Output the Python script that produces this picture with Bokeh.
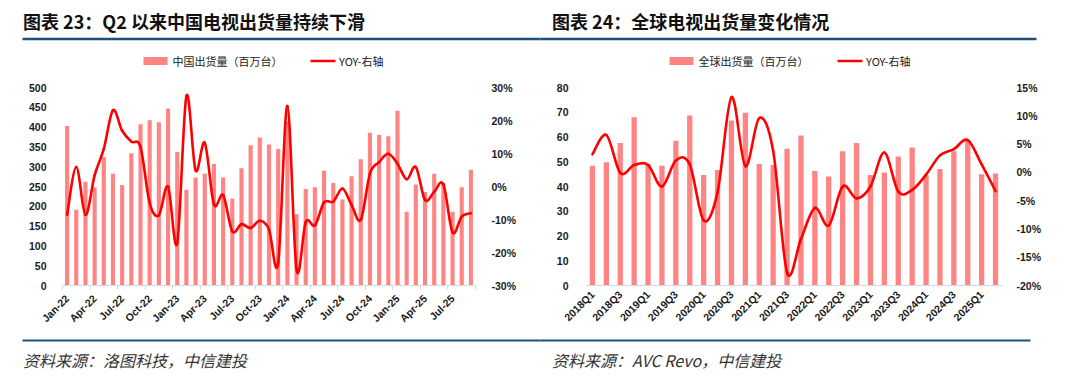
import math
from bokeh.plotting import figure
from bokeh.models import (Range1d, LinearAxis, FixedTicker, SingleIntervalTicker,
                          PrintfTickFormatter, ColumnDataSource)
from bokeh.layouts import row, column
from bokeh.embed import file_html
from bokeh.resources import INLINE
from bokeh.core.properties import value

# ---------------- data: left chart (China monthly) ----------------
months = ["Jan-22", "Feb-22", "Mar-22", "Apr-22", "May-22", "Jun-22", "Jul-22", "Aug-22", "Sep-22",
          "Oct-22", "Nov-22", "Dec-22", "Jan-23", "Feb-23", "Mar-23", "Apr-23", "May-23", "Jun-23",
          "Jul-23", "Aug-23", "Sep-23", "Oct-23", "Nov-23", "Dec-23", "Jan-24", "Feb-24", "Mar-24",
          "Apr-24", "May-24", "Jun-24", "Jul-24", "Aug-24", "Sep-24", "Oct-24", "Nov-24", "Dec-24",
          "Jan-25", "Feb-25", "Mar-25", "Apr-25", "May-25", "Jun-25", "Jul-25", "Aug-25", "Sep-25"]
cn_ship = [403, 191, 262, 248, 324, 282, 254, 334, 407, 417, 412, 447,
           337, 242, 273, 282, 307, 273, 219, 296, 354, 374, 356, 345,
           415, 180, 244, 248, 290, 259, 217, 276, 319, 386, 380, 377,
           441, 186, 255, 236, 282, 259, 186, 248, 292]
cn_yoy = [-8.6, 5.9, -8.6, 3.4, 11.4, 23.1, 16.9, 13.6, 11.9, -5.0, -8.7, 0.0,
          -17.1, 27.4, 4.9, 13.2, -5.4, -2.6, -13.6, -11.4, -12.6, -10.4, -13.0, -23.1,
          24.4, -25.1, -10.8, -11.8, -4.8, -4.6, -0.6, -5.6, -10.1, 3.9, 7.4, 9.9,
          6.9, 2.2, 5.9, -4.1, -1.6, 0.6, -13.9, -9.1, -8.1]

# ---------------- data: right chart (global quarterly) ----------------
quarters = ["2018Q1", "2018Q2", "2018Q3", "2018Q4", "2019Q1", "2019Q2", "2019Q3", "2019Q4",
            "2020Q1", "2020Q2", "2020Q3", "2020Q4", "2021Q1", "2021Q2", "2021Q3", "2021Q4",
            "2022Q1", "2022Q2", "2022Q3", "2022Q4", "2023Q1", "2023Q2", "2023Q3", "2023Q4",
            "2024Q1", "2024Q2", "2024Q3", "2024Q4", "2025Q1", "2025Q2"]
gl_ship = [48.4, 49.8, 57.6, 68.0, 49.0, 48.4, 58.5, 68.7, 44.6, 46.7, 66.7, 69.8,
           49.1, 48.7, 55.3, 60.6, 46.3, 44.0, 54.2, 57.6, 44.6, 45.7, 52.1, 55.8,
           44.4, 47.1, 54.2, 58.8, 44.9, 45.3]
gl_yoy = [3.2, 6.6, -0.1, 1.3, 1.3, -2.5, 2.1, 1.4, -8.5, -3.5, 13.3, 1.1,
          9.6, 3.8, -17.7, -11.8, -6.3, -9.4, -2.5, -4.6, -2.5, 3.5, -3.4, -3.1,
          -0.4, 3.0, 4.1, 5.7, 1.4, -3.3]

titles = ["图表 23：Q2 以来中国电视出货量持续下滑", "图表 24：全球电视出货量变化情况"]
sources = ["资料来源：洛图科技，中信建投", "资料来源：AVC Revo，中信建投"]
legend_bar = ["中国出货量（百万台）", "全球出货量（百万台）"]
legend_line = ["YOY-右轴", "YOY-右轴"]

BAR = "#FF8585"
RED = "#FF0000"
NAVY = "#1F4E79"
AXIS_GREY = "#D9D9D9"
TICK_FONT = "Liberation Sans"
CJK = "Noto Sans CJK SC"
W = 1080
TOP_H = 72
CHART_H = 263
BOT_H = 45


def bezier_source(ys):
    """Excel-style smoothed line: Catmull-Rom control points between the data points."""
    n = len(ys)
    xs = list(range(n))
    d = dict(x0=[], y0=[], x1=[], y1=[], cx0=[], cy0=[], cx1=[], cy1=[])
    for i in range(n - 1):
        a, b = max(i - 1, 0), min(i + 2, n - 1)
        d["x0"].append(xs[i]); d["y0"].append(ys[i])
        d["x1"].append(xs[i + 1]); d["y1"].append(ys[i + 1])
        d["cx0"].append(xs[i] + (xs[i + 1] - xs[a]) / 6.0)
        d["cy0"].append(ys[i] + (ys[i + 1] - ys[a]) / 6.0)
        d["cx1"].append(xs[i + 1] - (xs[b] - xs[i]) / 6.0)
        d["cy1"].append(ys[i + 1] - (ys[b] - ys[i]) / 6.0)
    return ColumnDataSource(d)


def style_y(ax, standoff):
    ax.axis_line_color = None
    ax.major_tick_line_color = None
    ax.minor_tick_line_color = None
    ax.major_tick_out = 0
    ax.major_tick_in = 0
    ax.major_label_standoff = standoff
    ax.major_label_text_font = TICK_FONT
    ax.major_label_text_font_style = "bold"
    ax.major_label_text_font_size = "10.5px"
    ax.major_label_text_color = "#1a1a1a"


def make_chart(cats, ship, yoy, y_max, y_step, r_min, r_max, r_step, bar_w,
               width, bl, br, label_step, minor, left_stand, right_stand):
    n = len(cats)
    idx = list(range(n))
    p = figure(width=width, height=CHART_H, output_backend="svg", toolbar_location=None,
               x_range=Range1d(-0.5, n - 0.5), y_range=Range1d(0, y_max),
               min_border_left=bl, min_border_right=br, min_border_top=15, min_border_bottom=50,
               outline_line_color=None, background_fill_color="white", border_fill_color="white")
    p.extra_y_ranges = {"yoy": Range1d(r_min, r_max)}
    p.xgrid.visible = False
    p.ygrid.visible = False

    src = ColumnDataSource(dict(x=idx, top=ship))
    p.vbar(x="x", top="top", width=bar_w, source=src, fill_color=BAR, line_color=None)
    p.bezier(x0="x0", y0="y0", x1="x1", y1="y1", cx0="cx0", cy0="cy0", cx1="cx1", cy1="cy1",
             source=bezier_source(yoy), line_color=RED, line_width=2.6, line_cap="round",
             y_range_name="yoy")

    style_y(p.yaxis[0], left_stand)
    p.yaxis[0].ticker = SingleIntervalTicker(interval=y_step)
    rax = LinearAxis(y_range_name="yoy", ticker=SingleIntervalTicker(interval=r_step),
                     formatter=PrintfTickFormatter(format="%d%%"))
    style_y(rax, right_stand)
    p.add_layout(rax, "right")

    xa = p.xaxis[0]
    ticks = idx[::label_step]
    xa.ticker = FixedTicker(ticks=ticks,
                            minor_ticks=[t - 0.5 for t in range(0, n + 1, 3)] if minor else [])
    xa.major_label_overrides = {t: cats[t] for t in ticks}
    xa.major_label_orientation = math.pi / 4
    xa.axis_line_color = AXIS_GREY
    xa.major_tick_line_color = None
    xa.major_tick_out = 0
    xa.major_tick_in = 0
    xa.minor_tick_line_color = AXIS_GREY if minor else None
    xa.minor_tick_out = 4
    xa.minor_tick_in = 0
    xa.major_label_standoff = 7
    xa.major_label_text_font = TICK_FONT
    xa.major_label_text_font_style = "bold"
    xa.major_label_text_font_size = "10.5px"
    xa.major_label_text_color = "#1a1a1a"
    return p


def blank(height):
    # pixel-space canvas (x right, y down) for titles, rules, legends and sources
    p = figure(width=W, height=height, output_backend="svg", toolbar_location=None,
               x_range=Range1d(0, W), y_range=Range1d(height, 0),
               x_axis_location=None, y_axis_location=None,
               min_border=0, min_border_left=0, min_border_right=0,
               min_border_top=0, min_border_bottom=0,
               outline_line_color=None, background_fill_color="white", border_fill_color="white")
    p.xgrid.visible = False
    p.ygrid.visible = False
    return p


# ---- top strip: titles, blue rules, legends ----
top = blank(TOP_H)
top.text(x=[22.5, 551.5], y=[20.7, 20.7], text=titles, text_font=value(CJK),
         text_font_style="bold", text_font_size="18px", text_color="#111111",
         text_baseline="middle", text_align="left")
top.quad(left=[22, 540], right=[540, 1036], top=[37.2, 37.2], bottom=[39.8, 39.8],
         fill_color=NAVY, line_color=None)
top.quad(left=[143, 669], right=[167, 693], top=[56.5, 56.5], bottom=[64.5, 64.5],
         fill_color=BAR, line_color=None)
top.segment(x0=[310, 837], y0=[60.5, 60.5], x1=[335, 862], y1=[60.5, 60.5],
            line_color=RED, line_width=2.6)
top.text(x=[172, 698], y=[60.5, 60.5], text=legend_bar, text_font=value(CJK),
         text_font_size="11px", text_color="#1a1a1a", text_baseline="middle")
top.text(x=[338.5, 865.5], y=[60.5, 60.5], text=legend_line, text_font=value(CJK),
         text_font_size="11px", text_color="#1a1a1a", text_baseline="middle")

# ---- charts ----
left = make_chart(months, cn_ship, cn_yoy, 500, 50, -30, 30, 10, 0.45,
                  540, 62, 65, 3, True, 12, 12)
right = make_chart(quarters, gl_ship, gl_yoy, 80, 10, -20, 15, 5, 0.38,
                   540, 45, 78, 2, False, 13, 10)

# ---- bottom strip: rules and sources (image y 335..380) ----
bot = blank(BOT_H)
bot.quad(left=[22, 540], right=[540, 1030], top=[4, 4], bottom=[6, 6],
         fill_color=NAVY, line_color=None)
bot.text(x=[22.5, 551.5], y=[24, 24], text=sources, text_font=value(CJK),
         text_font_style="italic", text_font_size="16px", text_color="#333333",
         text_baseline="middle", text_align="left")

layout = column(top, row(left, right), bot)
open("out.html", "w").write(file_html(layout, INLINE))
